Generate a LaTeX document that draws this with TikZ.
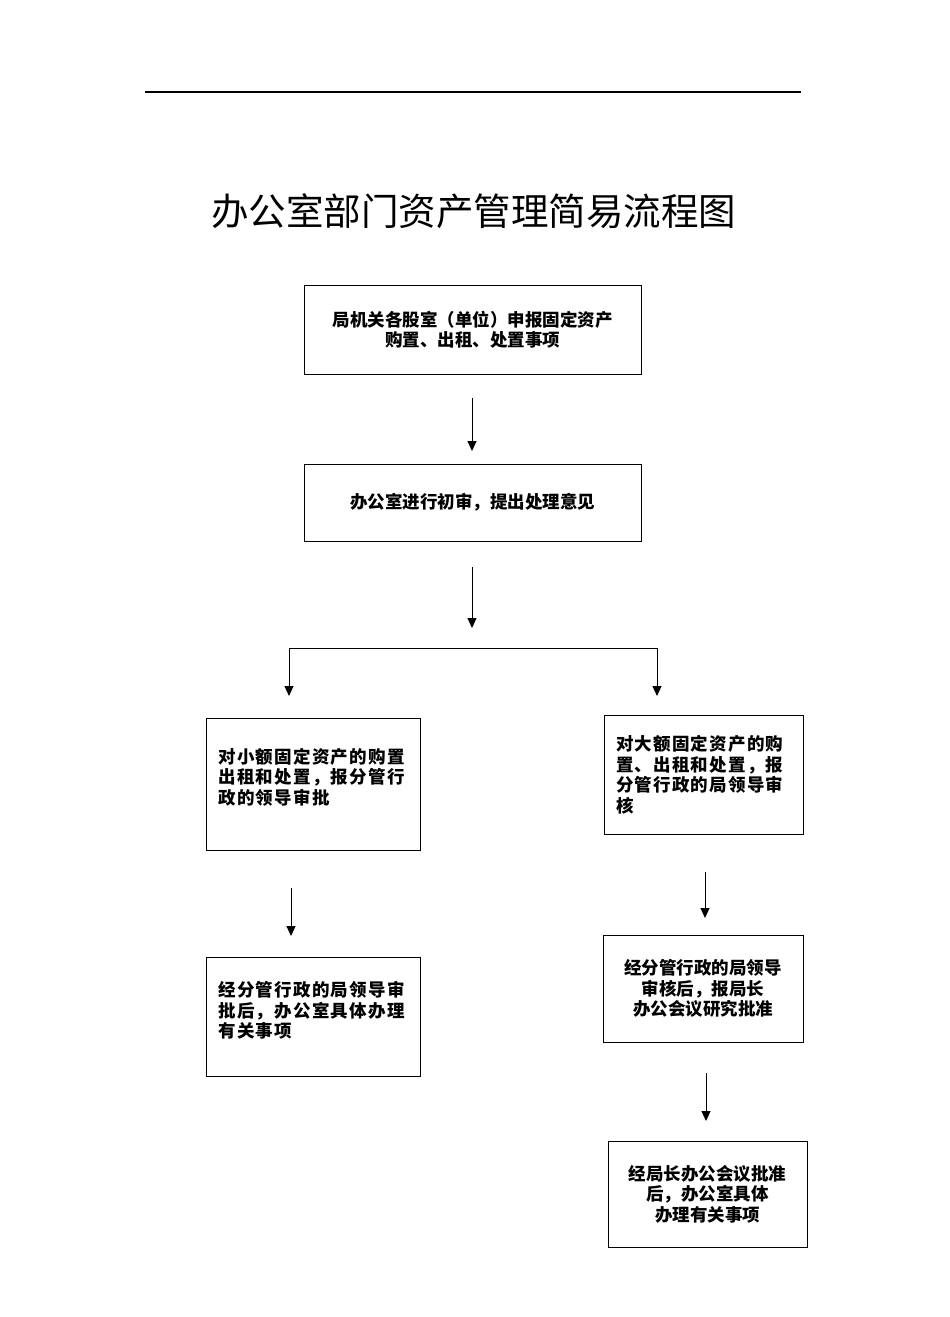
\documentclass[tikz,border=0pt]{standalone}
\usepackage{fontspec}
\setmainfont{Noto Sans CJK SC}
\usetikzlibrary{arrows.meta}
\begin{document}
\begin{tikzpicture}[x=1pt, y=-1pt]
        \tikzstyle{frame} = [rectangle, draw, line width=1pt, inner sep=0pt, align=center, font=\fontsize{17.5}{20.5}\selectfont\bfseries]
        \tikzstyle{leftframe} = [frame, align=left, font=\fontsize{17.5}{20.5}\selectfont\bfseries\addfontfeature{LetterSpace=7}]
        \tikzstyle{line} = [draw, line width=1pt, -{Triangle[length=10pt, width=9pt]}]
        \useasboundingbox (0,0) rectangle (950,1317);
        \draw [line width=1.5pt] (145,92) -- (801,92);
        \node (title) at (473.5,211) {\fontsize{37.5}{40}\selectfont 办公室部门资产管理简易流程图};
        \node [frame, minimum width=337pt, minimum height=89pt] (apply) at (472.5,329.5) {局机关各股室（单位）申报固定资产\\购置、出租、处置事项};
        \node [frame, minimum width=337pt, minimum height=77pt] (check) at (472.5,502.5) {办公室进行初审，提出处理意见};
        \node [leftframe, minimum width=214pt, minimum height=132pt, text width=189pt] (small) at (313,784) {对小额固定资产的购置\\出租和处置，报分管行\\政的领导审批\\[-5pt]\mbox{}};
        \node [leftframe, minimum width=199pt, minimum height=119pt, text width=175pt] (large) at (703.5,774.5) {对大额固定资产的购\\置、出租和处置，报\\分管行政的局领导审\\核};
        \node [leftframe, minimum width=214pt, minimum height=119pt, text width=189pt] (smallok) at (313,1016.5) {经分管行政的局领导审\\批后，办公室具体办理\\有关事项\\[-7pt]\mbox{}};
        \node [frame, minimum width=200pt, minimum height=107pt] (meeting) at (703,988.5) {经分管行政的局领导\\审核后，报局长\\办公会议研究批准};
        \node [frame, minimum width=199pt, minimum height=106pt] (largeok) at (707.5,1194) {经局长办公会议批准\\后，办公室具体\\办理有关事项};
        % free standing arrows between the boxes
        \coordinate (a1) at (472,398);  \coordinate (b1) at (472,451);
        \coordinate (a2) at (472,567);  \coordinate (b2) at (472,628);
        \coordinate (forkl) at (289,648); \coordinate (forkr) at (657,648);
        \coordinate (b3) at (289,696);  \coordinate (b4) at (657,696);
        \coordinate (a5) at (291,888);  \coordinate (b5) at (291,936);
        \coordinate (a6) at (705,872);  \coordinate (b6) at (705,918);
        \coordinate (a7) at (706,1073); \coordinate (b7) at (706,1121);
        \path [line] (a1) -- (b1);
        \path [line] (a2) -- (b2);
        \draw [line width=1pt] (forkl) -- (forkr);
        \path [line] (forkl) -- (b3);
        \path [line] (forkr) -- (b4);
        \path [line] (a5) -- (b5);
        \path [line] (a6) -- (b6);
        \path [line] (a7) -- (b7);
    \end{tikzpicture}
\end{document}
